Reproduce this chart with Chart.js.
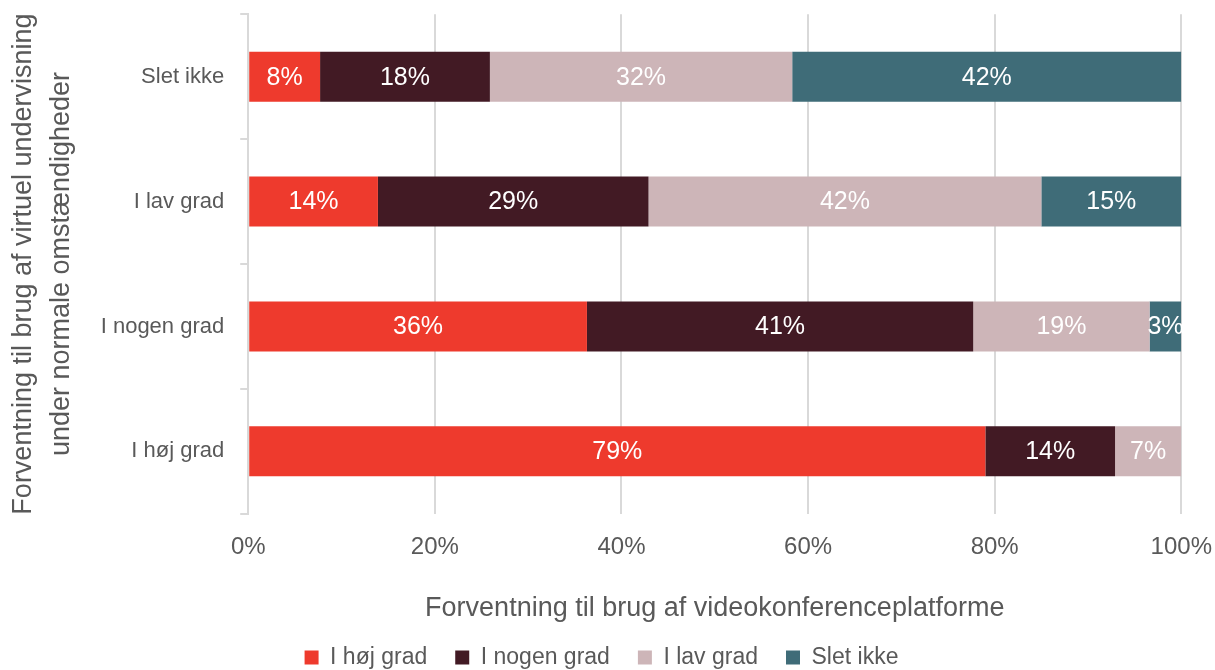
<!DOCTYPE html>
<html><head><meta charset="utf-8">
<script src="https://cdn.jsdelivr.net/npm/chart.js@4"></script>
<style>html,body{margin:0;padding:0;background:#fff;overflow:hidden}#wrap{position:relative;top:-15px;width:1215px;height:685px}</style>
</head><body><div id="wrap"><canvas id="c"></canvas></div>
<script>
const categories = ["Slet ikke", "I lav grad", "I nogen grad", "I høj grad"];
const seriesNames = ["I høj grad", "I nogen grad", "I lav grad", "Slet ikke"];
const hojGrad   = [7.7, 13.9, 36.3, 79.0];
const nogenGrad = [18.2, 29.0, 41.4, 13.9];
const lavGrad   = [32.4, 42.1, 18.9, 7.1];
const sletIkke  = [41.7, 15.0, 3.4, 0];
const xTicks = ["0%", "20%", "40%", "60%", "80%", "100%"];
const colors = ["#EE3A2D", "#421A24", "#CDB5B8", "#3F6C78"];

const FONT = "'Liberation Sans', Arial, sans-serif";
const series = [hojGrad, nogenGrad, lavGrad, sletIkke];

const labelPlugin = {
  id: 'barLabels',
  afterDatasetsDraw(chart) {
    const ctx = chart.ctx;
    ctx.save();
    ctx.font = "25px " + FONT;
    ctx.fillStyle = "#ffffff";
    ctx.textAlign = "center";
    ctx.textBaseline = "middle";
    chart.data.datasets.forEach((ds, i) => {
      const meta = chart.getDatasetMeta(i);
      meta.data.forEach((bar, j) => {
        const v = ds.data[j];
        if (!v) return;
        const cx = (bar.x + bar.base) / 2;
        ctx.fillText(Math.round(v) + "%", cx, bar.y + 1);
      });
    });
    ctx.restore();
  }
};

new Chart(document.getElementById('c'), {
  type: 'bar',
  data: {
    labels: categories,
    datasets: series.map((d, i) => ({
      label: seriesNames[i],
      data: d,
      backgroundColor: colors[i],
      borderWidth: 0,
      categoryPercentage: 1,
      barPercentage: 0.4
    }))
  },
  options: {
    indexAxis: 'y',
    responsive: true,
    maintainAspectRatio: false,
    animation: false,
    layout: { padding: { left: 4, right: 16, top: 0, bottom: -9 } },
    plugins: {
      legend: {
        position: 'bottom',
        labels: {
          font: { family: FONT, size: 23 },
          color: '#595959',
          boxWidth: 14, boxHeight: 14,
          padding: 28
        }
      },
      tooltip: { enabled: false }
    },
    scales: {
      x: {
        stacked: true,
        min: 0, max: 100,
        ticks: {
          stepSize: 20,
          font: { family: FONT, size: 24 },
          color: '#595959',
          padding: 3,
          callback: (v, i) => xTicks[i]
        },
        grid: { color: '#d9d9d9', lineWidth: 2, drawTicks: true, tickLength: 16, tickColor: 'rgba(0,0,0,0)' },
        border: { display: false },
        title: {
          display: true,
          text: 'Forventning til brug af videokonferenceplatforme',
          font: { family: FONT, size: 27 },
          color: '#595959',
          padding: { top: 28, bottom: -7 }
        }
      },
      y: {
        stacked: true,
        ticks: {
          font: { family: FONT, size: 22 },
          color: '#595959',
          padding: 16
        },
        grid: { offset: true, drawOnChartArea: false, drawTicks: true, tickLength: 8, color: '#d9d9d9', lineWidth: 2 },
        border: { display: true, color: '#d9d9d9', width: 2 },
        title: {
          display: true,
          text: ['Forventning til brug af virtuel undervisning', 'under normale omstændigheder'],
          font: { family: FONT, size: 27, lineHeight: 1.42 },
          color: '#595959',
          padding: { top: 0, bottom: 4 }
        }
      }
    }
  },
  plugins: [labelPlugin]
});
</script></body></html>
